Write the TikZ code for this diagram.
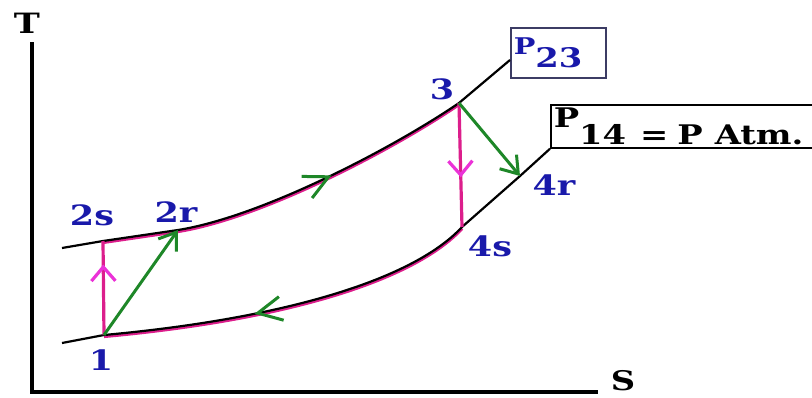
\documentclass[tikz,border=0pt]{standalone}
\usepackage{fontspec}
\setmainfont{DejaVu Serif}[FakeStretch=1.25]
\usepackage{tikz}
\usetikzlibrary{arrows.meta,decorations.markings,positioning,calc}
\definecolor{estado}{RGB}{25,25,170}
\definecolor{proceso}{RGB}{220,30,140}
\definecolor{flecha}{RGB}{235,50,215}
\definecolor{real}{RGB}{30,135,40}
\definecolor{marco}{RGB}{60,60,100}
\tikzset{
  ejes/.style={line width=4.5pt,black},
  isobara/.style={line width=2.2pt,black},
  ideal/.style={line width=3.2pt,proceso},
  irrev/.style={line width=3pt,real,-{Straight Barb[length=16pt,width=22pt]}},
  medio/.style={postaction=decorate,decoration={markings,
    mark=at position #1 with {\arrow[flecha]{Straight Barb[length=14pt,width=24pt]}}}},
  sentido/.style={line width=3pt,postaction=decorate,decoration={markings,
    mark=at position #1 with {\arrow[real]{Straight Barb[length=24pt,width=24pt]}}}},
  etiq/.style={text=estado,inner sep=0pt,font=\bfseries\fontsize{28}{28}\selectfont},
  caja/.style={draw,line width=1.5pt,anchor=west,inner xsep=3pt,inner ysep=0pt,align=left}
}
\begin{document}
\begin{tikzpicture}[x=1pt,y=-1pt]
\useasboundingbox (0,0) rectangle (812,397);
\coordinate (tope) at (32,42);
\coordinate (origen) at (32,392);
\coordinate (fin) at (598,392);
\coordinate (a0) at (62,248);
\coordinate (p2s) at (103,241);
\coordinate (p2r) at (178,230);
\coordinate (p3) at (459,103);
\coordinate (b0) at (62,343);
\coordinate (p1) at (104,335);
\coordinate (p4s) at (462,227);
\coordinate (p4r) at (520,176);
\node[caja,draw=marco,text=estado,minimum height=50pt,text width=89pt,font=\bfseries] (P23) at (510,53)
  {{\fontsize{23}{23}\selectfont P}\raisebox{-13pt}{\fontsize{27}{27}\selectfont 23}};
\node[caja,minimum height=43pt,text width=280pt,font=\bfseries\fontsize{27}{27}\selectfont] (P14) at (550,126.5)
  {\raisebox{17pt}{P}14\hspace{14pt}=\hspace{9pt}P\hspace{12pt}Atm.};
\draw[ejes] (tope) -- (origen) -- (fin);
\node[font=\bfseries\fontsize{28}{28}\selectfont,inner sep=0pt] (T) at (27,23) {T};
\node[font=\bfseries\fontsize{27}{27}\selectfont,inner sep=0pt] (S) at (623,381) {S};
\draw[ideal,transform canvas={yshift=-1.5pt}] (p2s) -- (p2r) .. controls (260,217) and (390,150) .. (p3);
\draw[ideal,transform canvas={yshift=-1.5pt}] (p4s) .. controls (415,278) and (290,318) .. (p1);
\draw[isobara] (a0) -- (p2s) -- (p2r) .. controls (260,217) and (390,150) .. (p3) -- ([yshift=-7pt]P23.west);
\draw[isobara] (b0) -- (p1) .. controls (290,318) and (415,278) .. (p4s) -- (p4r) -- (P14.south west);
\path[sentido=0.62] (p2s) -- (p2r) .. controls (260,217) and (390,150) .. (p3);
\path[sentido=0.6] (p4s) .. controls (415,278) and (290,318) .. (p1);
\draw[ideal,medio=0.75] (p1) -- (p2s);
\draw[ideal,medio=0.6] (p3) -- (p4s);
\draw[irrev] (p1) -- (p2r);
\draw[irrev] (p3) -- (p4r);
\node[etiq] (e1) at (101,360) {1};
\node[etiq] (e2s) at (92,215) {2s};
\node[etiq] (e2r) at (176,212) {2r};
\node[etiq] (e3) at (442,89) {3};
\node[etiq] (e4s) at (490,246) {4s};
\node[etiq] (e4r) at (554,185) {4r};
\end{tikzpicture}
\end{document}
